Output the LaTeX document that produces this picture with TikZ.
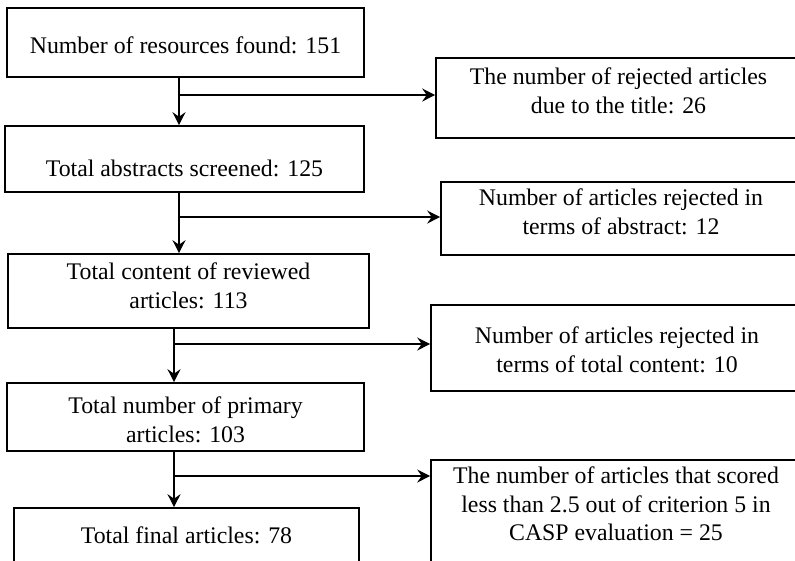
\documentclass[tikz,border=0pt]{standalone}
\usepackage{fontspec}
\setmainfont{Liberation Serif}
\usetikzlibrary{arrows.meta}
\begin{document}
\begin{tikzpicture}[x=1pt,y=-1pt,
  box/.style={draw,line width=1.6pt,inner sep=0pt,rectangle},
  txt/.style={inner sep=0pt,anchor=north,align=center,font=\rmfamily\fontsize{23.8}{28.5}\selectfont},
  arr/.style={line width=1.4pt,-{Stealth[length=13pt,width=13pt,inset=4.5pt]}},
  ln/.style={line width=1.4pt}]
\useasboundingbox (0,0) rectangle (795,560);
\clip (0,0) rectangle (795,560);
% boxes
\node[box,minimum width=357pt,minimum height=69pt] (L1) at (185.5,42.5) {};
\node[box,minimum width=359pt,minimum height=66pt] (L2) at (184.5,159) {};
\node[box,minimum width=361pt,minimum height=74pt] (L3) at (188.5,291) {};
\node[box,minimum width=357pt,minimum height=68pt] (L4) at (185.5,417) {};
\node[box,minimum width=345pt,minimum height=72pt] (L5) at (186.5,544) {};
\node[box,minimum width=365pt,minimum height=80pt] (R1) at (618.5,98) {};
\node[box,minimum width=360pt,minimum height=73pt] (R2) at (621,218.5) {};
\node[box,minimum width=372pt,minimum height=86pt] (R3) at (617,348) {};
\node[box,minimum width=370pt,minimum height=140pt] (R4) at (616,530) {};
% texts
\node[txt] (L1t) at (185.5,36.7) {Number of resources found: 151};
\node[txt] (L2t) at (184.5,159.7) {Total abstracts screened: 125};
\node[txt] (L3t) at (188.5,262.7) {Total content of reviewed\\articles: 113};
\node[txt] (L4t) at (185.5,396.7) {Total number of primary\\articles: 103};
\node[txt] (L5t) at (186.5,526.7) {Total final articles: 78};
\node[txt] (R1t) at (618.5,67.7) {The number of rejected articles\\due to the title: 26};
\node[txt] (R2t) at (621,188.7) {Number of articles rejected in\\terms of abstract: 12};
\node[txt] (R3t) at (617,327) {Number of articles rejected in\\terms of total content: 10};
\node[txt] (R4t) at (616,466.7) {The number of articles that scored\\less than 2.5 out of criterion 5 in\\CASP evaluation = 25};
% connectors
\coordinate (c1) at (179,95);
\coordinate (c2) at (179,217);
\coordinate (c3) at (174,344);
\coordinate (c4) at (174,476);
\draw[ln] (L1.south -| c1) -- (c1);
\draw[arr] (c1) -- (L2.north -| c1);
\draw[arr] (c1) -- (c1 -| R1.west);
\draw[ln] (L2.south -| c2) -- (c2);
\draw[arr] (c2) -- (L3.north -| c2);
\draw[arr] (c2) -- (c2 -| R2.west);
\draw[ln] (L3.south -| c3) -- (c3);
\draw[arr] (c3) -- (L4.north -| c3);
\draw[arr] (c3) -- (c3 -| R3.west);
\draw[ln] (L4.south -| c4) -- (c4);
\draw[arr] (c4) -- (L5.north -| c4);
\draw[arr] (c4) -- (c4 -| R4.west);
\end{tikzpicture}
\end{document}
